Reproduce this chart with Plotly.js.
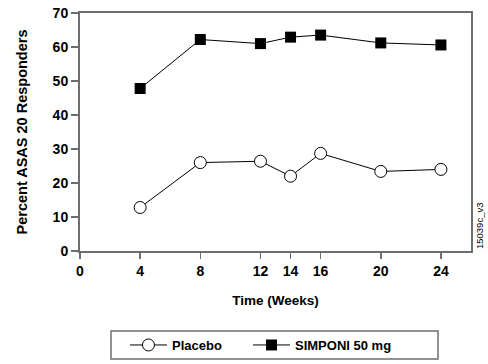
<!DOCTYPE html>
<html>
<head>
<meta charset="utf-8">
<script src="https://cdn.plot.ly/plotly-3.0.1.min.js"></script>
<style>html,body{margin:0;padding:0;background:#fff;}#chart{width:488px;height:364px;}</style>
</head>
<body>
<div id="chart"></div>
<script>
const weeks = [4, 8, 12, 14, 16, 20, 24];
const placebo = [12.8, 26.0, 26.4, 22.0, 28.7, 23.4, 24.0];
const simponi = [47.8, 62.2, 61.0, 62.9, 63.5, 61.2, 60.6];
const xTicks = [0, 4, 8, 12, 14, 16, 20, 24];
const yTicks = [0, 10, 20, 30, 40, 50, 60, 70];
const seriesNames = ['Placebo', 'SIMPONI 50 mg'];

const font = 'Liberation Sans, Arial, sans-serif';
const axisColor = '#6e6e6e';

const traces = [
  {
    x: weeks, y: placebo, name: seriesNames[0], type: 'scatter', mode: 'lines+markers',
    line: {color: '#000', width: 1},
    marker: {symbol: 'circle', size: 12, color: '#fff', line: {color: '#000', width: 1}},
    cliponaxis: false, legend: 'legend'
  },
  {
    x: weeks, y: simponi, name: seriesNames[1], type: 'scatter', mode: 'lines+markers',
    line: {color: '#000', width: 1},
    marker: {symbol: 'square', size: 11, color: '#000', line: {color: '#000', width: 0}},
    cliponaxis: false, legend: 'legend2'
  }
];

const legendBase = {
  orientation: 'h', xanchor: 'left', y: -0.395, yanchor: 'middle',
  borderwidth: 0, bgcolor: 'rgba(0,0,0,0)',
  font: {family: font, size: 13, color: '#000', weight: 'bold'},
  itemsizing: 'trace', itemwidth: 37
};

const layout = {
  width: 488, height: 364,
  margin: {l: 80, r: 17, t: 13, b: 113, autoexpand: false},
  paper_bgcolor: '#fff', plot_bgcolor: '#fff',
  font: {family: font, color: '#000', size: 13},
  showlegend: true,
  legend: Object.assign({}, legendBase, {x: 0.115}),
  legend2: Object.assign({}, legendBase, {x: 0.4297}),
  shapes: [
    {type: 'rect', xref: 'paper', yref: 'paper', x0: 0.0793, x1: 0.9156, y0: -0.454, y1: -0.336,
     line: {color: axisColor, width: 1.5}, fillcolor: 'rgba(0,0,0,0)'}
  ],
  xaxis: {
    range: [0, 26], tickvals: xTicks, ticktext: xTicks.map(String),
    showgrid: false, zeroline: false,
    showline: true, linecolor: axisColor, linewidth: 2, mirror: true,
    ticks: 'outside', ticklen: 6, tickcolor: axisColor, tickwidth: 1.5,
    tickfont: {family: font, size: 14, color: '#000', weight: 'bold'},
    title: {text: 'Time (Weeks)', font: {family: font, size: 13.5, color: '#000', weight: 'bold'}, standoff: 18}
  },
  yaxis: {
    range: [0, 70], tickvals: yTicks, ticktext: yTicks.map(String),
    showgrid: false, zeroline: false,
    showline: true, linecolor: axisColor, linewidth: 2, mirror: true,
    ticks: 'outside', ticklen: 7, tickcolor: axisColor, tickwidth: 1.5,
    tickfont: {family: font, size: 14, color: '#000', weight: 'bold'},
    title: {text: 'Percent ASAS 20 Responders', font: {family: font, size: 14.5, color: '#000', weight: 'bold'}, standoff: 22}
  },
  annotations: [
    {
      text: '15039c_v3', xref: 'paper', yref: 'paper', x: 1.0205, xanchor: 'center',
      y: 0.105, yanchor: 'middle', textangle: -90, showarrow: false,
      font: {family: font, size: 9.5, color: '#000'}
    }
  ]
};

Plotly.newPlot('chart', traces, layout, {displayModeBar: false, staticPlot: true});
</script>
</body>
</html>
